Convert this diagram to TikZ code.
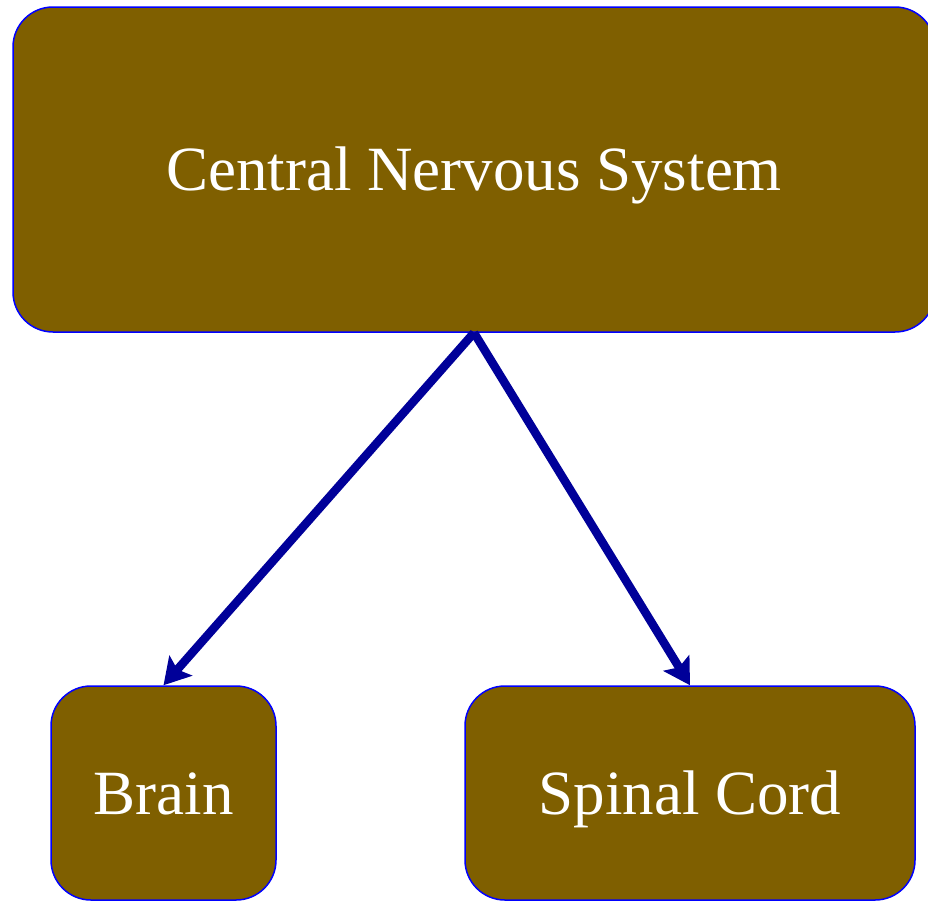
\documentclass[tikz,border=0pt]{standalone}
\usepackage{fontspec}
\setmainfont{Liberation Serif}
\usetikzlibrary{arrows.meta}
\definecolor{boxfill}{HTML}{7F5F00}
\definecolor{arrowblue}{HTML}{000099}
\tikzset{
  organ/.style={draw=blue, line width=1.5pt, fill=boxfill, rounded corners=40pt,
    text=white, font=\fontsize{63}{70}\selectfont, inner sep=0pt,
    text height=42pt, text depth=0pt},
  branch/.style={draw=arrowblue, line width=8.5pt,
    -{Stealth[length=26pt,width=30pt,inset=5pt]}}
}
\begin{document}
\begin{tikzpicture}[x=1pt,y=-1pt]
\useasboundingbox (0,0) rectangle (928,902);

%draw boxes
\node[organ, minimum width=922pt, minimum height=325pt] (cns) at (474,169.5) {Central Nervous System};
\node[organ, minimum width=225pt, minimum height=214pt] (brain) at (163.5,793) {Brain};
\node[organ, minimum width=450pt, minimum height=214pt] (cord) at (690,793) {Spinal Cord};

%draw arrows
\draw[branch] (cns.south) -- (brain.north);
\draw[branch] (cns.south) -- (cord.north);
\end{tikzpicture}
\end{document}
